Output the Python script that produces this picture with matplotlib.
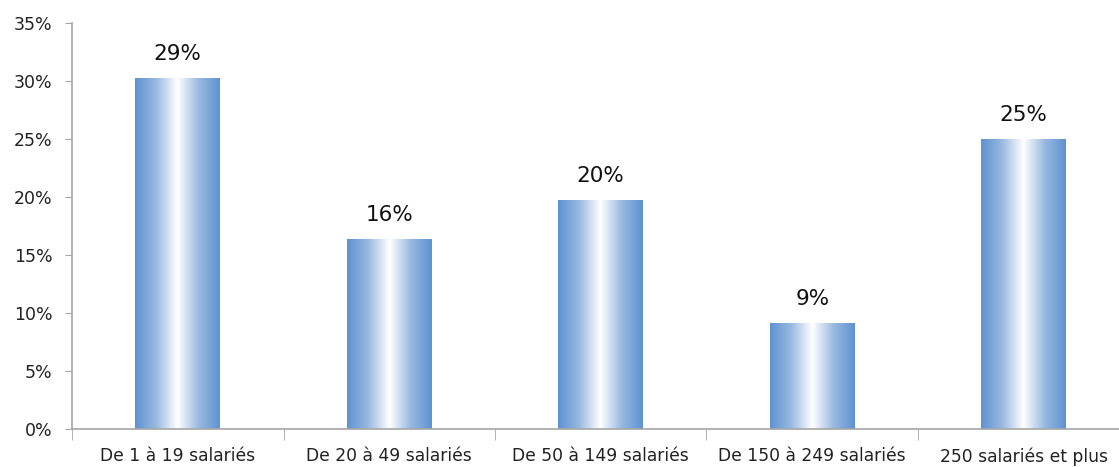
import numpy as np
import matplotlib
matplotlib.use("Agg")
import matplotlib.pyplot as plt
from matplotlib.colors import LinearSegmentedColormap
from matplotlib.ticker import FuncFormatter, MultipleLocator

categories = ["De 1 à 19 salariés", "De 20 à 49 salariés", "De 50 à 149 salariés",
              "De 150 à 249 salariés", "250 salariés et plus"]
values = [30.25, 16.35, 19.75, 9.15, 25.0]
value_labels = ["29%", "16%", "20%", "9%", "25%"]

W, H = 1119, 467
fig = plt.figure(figsize=(W / 100, H / 100), dpi=100)
left, right_px, top, bottom = 72, 72 + 5 * 211.5, 23, 429
ax = fig.add_axes([left / W, 1 - bottom / H, (right_px - left) / W, (bottom - top) / H])

x = np.arange(len(categories))
bars = ax.bar(x, values, width=0.4, color="none", edgecolor="none", zorder=2)

edge = np.array([94, 146, 208]) / 255
cmap = LinearSegmentedColormap.from_list(
    "g", [(0.0, edge), (0.25, (0.60, 0.73, 0.88)), (0.5, (1, 1, 1)),
          (0.75, (0.60, 0.73, 0.88)), (1.0, edge)])
grad = np.linspace(0, 1, 256).reshape(1, -1)
for b in bars:
    x0, y0 = b.get_x(), b.get_y()
    im = ax.imshow(grad, cmap=cmap, aspect="auto",
                   extent=(x0, x0 + b.get_width(), y0, y0 + b.get_height()),
                   zorder=2, interpolation="bilinear")
    im.set_clip_path(b)

for xi, v, lab in zip(x, values, value_labels):
    ax.annotate(lab, (xi, v), xytext=(0, 10), textcoords="offset points",
                ha="center", va="bottom", fontsize=15.5, color="#111111")

ax.set_xlim(-0.5, len(categories) - 0.5)
ax.set_ylim(0, 35)
ax.yaxis.set_major_locator(MultipleLocator(5))
ax.yaxis.set_major_formatter(FuncFormatter(lambda v, p: f"{v:.0f}%"))
ax.set_xticks(x)
ax.set_xticklabels(categories)
ax.set_xticks(np.arange(len(categories) + 1) - 0.5, minor=True)
ax.tick_params(axis="x", which="major", length=0, pad=13, labelsize=12.3, labelcolor="#222222")
ax.tick_params(axis="x", which="minor", length=8, color="#a6a6a6")
ax.tick_params(axis="y", length=5, color="#a6a6a6", labelsize=12.5, labelcolor="#222222", pad=9)
for s in ["top", "right"]:
    ax.spines[s].set_visible(False)
for s in ["left", "bottom"]:
    ax.spines[s].set_color("#a6a6a6")
    ax.spines[s].set_linewidth(1.2)

fig.savefig("out.png", dpi=100)
